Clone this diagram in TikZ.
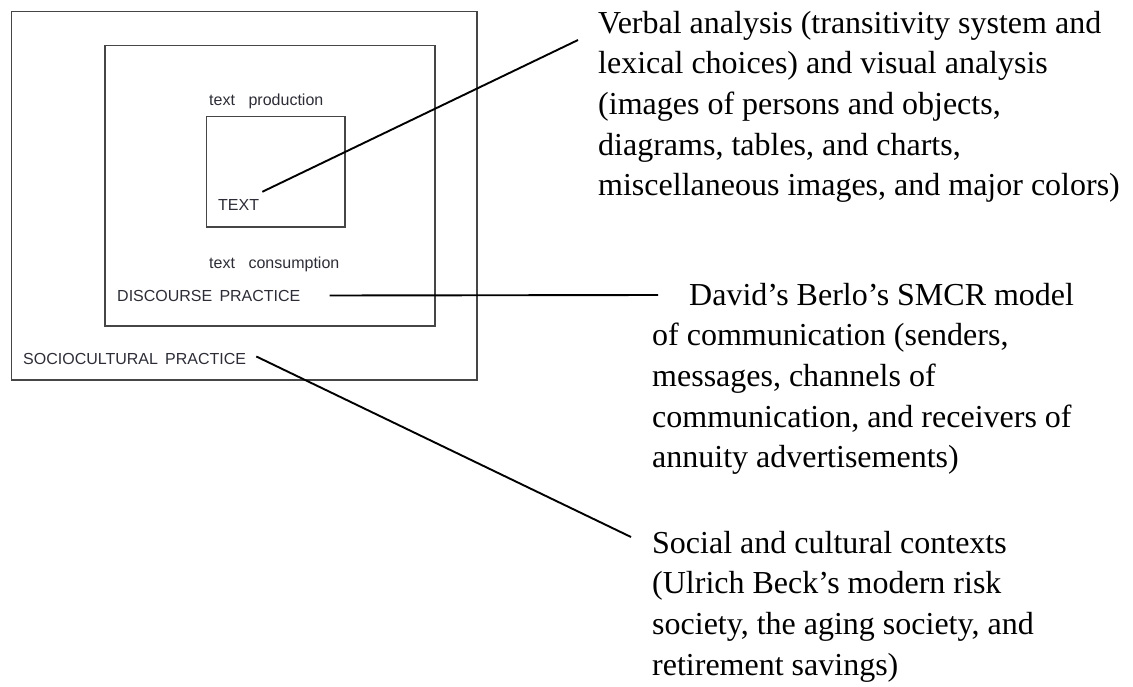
\documentclass[tikz,border=0pt]{standalone}
\usepackage{fontspec}
\setmainfont{Liberation Serif}
\newfontfamily\labsf{Liberation Sans}
\usetikzlibrary{calc}
\definecolor{labgray}{RGB}{45,45,55}
\definecolor{boxgray}{RGB}{70,70,70}
\tikzset{
  frame/.style={draw=boxgray, line width=1.1pt, inner sep=0pt, minimum width=#1},
  lab/.style={font=\labsf\fontsize{16}{18}\selectfont, text=labgray, inner sep=0pt, anchor=base west},
  desc/.style={font=\fontsize{32}{40.7}\selectfont, align=left, inner sep=0pt, anchor=base west},
  conn/.style={draw=black, line width=1.9pt}
}
\begin{document}
\begin{tikzpicture}[x=1pt,y=-1pt]
\useasboundingbox (0,0) rectangle (1133,686);
% boxes
\node[frame=465.3pt, minimum height=368.3pt] (outer) at (244.3,195.8) {};
\node[frame=330pt, minimum height=280.3pt] (middle) at (270,185.8) {};
\node[frame=138.3pt, minimum height=110.3pt] (inner) at (275.8,171.8) {};
% labels
\node[lab] (prod) at (209,105.5) {text\hspace{0.85em}production};
\node[lab] (txt) at (218,210) {TEXT};
\node[lab] (cons) at (209,268) {text\hspace{0.85em}consumption};
\node[lab] (disc) at (117,301) {DISCOURSE\hspace{0.45em}PRACTICE};
\node[lab] (socio) at (23,364) {SOCIOCULTURAL\hspace{0.45em}PRACTICE};
% descriptions (anchored at the baseline of the last line)
\node[desc] (d1) at (598,195.8) {Verbal analysis (transitivity system and\\
lexical choices) and visual analysis\\
(images of persons and objects,\\
diagrams, tables, and charts,\\
miscellaneous images, and major colors)};
\node[desc] (d2) at (652,467.8) {\hspace*{37pt}David's Berlo's SMCR model\\
of communication (senders,\\
messages, channels of\\
communication, and receivers of\\
annuity advertisements)};
\node[desc] (d3) at (652,675.1) {Social and cultural contexts\\
(Ulrich Beck's modern risk\\
society, the aging society, and\\
retirement savings)};
% connector ends
\coordinate (e1) at (578,40);
\coordinate (e2) at (658,295);
\coordinate (e3) at (631,537);
\draw[conn] ($(txt.north east)+(3,-7)$) -- (e1);
\draw[conn] ($(disc.east)+(29,0)$) -- (e2);
\draw[conn] ($(socio.east)+(10,-2)$) -- (e3);
\end{tikzpicture}
\end{document}
